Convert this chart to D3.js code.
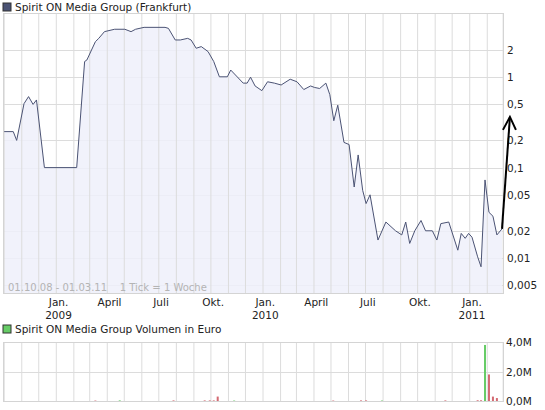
<!DOCTYPE html>
<html><head><meta charset="utf-8">
<script src="https://cdn.jsdelivr.net/npm/d3@7"></script>
<style>body{margin:0;background:#fff}svg{font-family:"DejaVu Sans",Verdana,sans-serif}</style>
</head><body><svg id="chart" width="545" height="410"></svg>
<script>
// price (weekly close, log scale)
var priceDates = ["2008-10-01","2008-10-17","2008-10-23","2008-11-05","2008-11-13","2008-11-21","2008-11-27","2008-12-11","2009-02-06","2009-02-20","2009-02-24","2009-03-11","2009-03-17","2009-03-27","2009-04-14","2009-05-02","2009-05-13","2009-05-21","2009-06-05","2009-07-12","2009-07-18","2009-07-30","2009-08-08","2009-08-21","2009-08-27","2009-09-05","2009-09-14","2009-09-26","2009-10-06","2009-10-16","2009-10-30","2009-11-05","2009-11-27","2009-12-04","2009-12-10","2009-12-18","2009-12-30","2010-01-09","2010-01-21","2010-02-02","2010-02-18","2010-03-02","2010-03-14","2010-03-26","2010-04-02","2010-04-11","2010-04-22","2010-04-29","2010-05-06","2010-05-13","2010-05-24","2010-06-02","2010-06-11","2010-06-18","2010-06-26","2010-07-02","2010-07-09","2010-07-23","2010-08-06","2010-08-23","2010-09-03","2010-09-10","2010-09-17","2010-09-26","2010-10-07","2010-10-15","2010-10-27","2010-11-04","2010-11-11","2010-11-25","2010-12-11","2010-12-17","2010-12-24","2010-12-30","2011-01-05","2011-01-15","2011-01-21","2011-01-28","2011-02-04","2011-02-11","2011-02-18","2011-02-27"];
var priceValues = [0.25,0.25,0.20,0.51,0.61,0.50,0.56,0.10,0.10,1.49,1.55,2.47,2.69,3.19,3.39,3.39,3.19,3.39,3.56,3.56,3.47,2.58,2.58,2.69,2.58,2.09,2.18,1.92,1.49,1.01,1.01,1.20,0.86,0.86,1.0,0.80,0.71,0.89,0.86,0.82,0.95,0.89,0.73,0.80,0.77,0.75,0.86,0.64,0.33,0.49,0.19,0.18,0.061,0.138,0.056,0.040,0.050,0.0158,0.025,0.020,0.018,0.025,0.0145,0.020,0.026,0.020,0.020,0.0158,0.024,0.025,0.0122,0.0187,0.0165,0.0187,0.017,0.0103,0.008,0.073,0.032,0.029,0.018,0.021];
var priceTicks = [2,1,0.5,0.2,0.1,0.05,0.02,0.01,0.005];

// volume in Euro, "up" = green, "down" = red
var volDates = ["2009-03-11","2009-04-23","2009-07-27","2009-09-20","2009-09-29","2009-10-06","2009-10-13","2009-11-11","2010-05-05","2010-06-23","2010-07-02","2010-07-30","2010-11-19","2011-01-15","2011-01-21","2011-01-28","2011-02-04","2011-02-11","2011-02-18"];
var volValues = [0.03,0.04,0.04,0.04,0.04,0.04,0.3,0.03,0.03,0.04,0.04,0.03,0.04,0.05,0.05,3.8,1.8,0.3,0.2];
var volUp = [0,1,0,0,0,0,0,1,0,0,0,1,0,0,0,1,0,0,0];
var volTicks = [0,2,4];

var xLabels = [["2009-01-01","Jan.","2009"],["2009-04-01","April",""],["2009-07-01","Juli",""],["2009-10-01","Okt.",""],["2010-01-01","Jan.","2010"],["2010-04-01","April",""],["2010-07-01","Juli",""],["2010-10-01","Okt.",""],["2011-01-01","Jan.","2011"]];

var parse = d3.timeParse("%Y-%m-%d");
var svg = d3.select("#chart");
var L = 3, R = 503, T = 13, B = 293, VT = 342, VB = 401;
var dayPx = (502 - 4.2) / 879;
var x = d3.scaleTime()
	.domain([parse("2008-10-01"), parse("2011-02-27")])
	.range([4.2, 502]);
var y = d3.scaleLog().domain([0.0041, 5.13]).range([B, T]);
var yv = d3.scaleLinear().domain([0, 4]).range([VB, VT]);
var months = d3.timeMonth.range(parse("2008-10-01"), parse("2011-03-02"));

function grid(top, bottom) {
	svg.append("g").selectAll("line").data(months).enter().append("line")
		.attr("x1", function (d) { return x(d); }).attr("x2", function (d) { return x(d); })
		.attr("y1", top).attr("y2", bottom)
		.attr("stroke", "#dcdcdc");
	svg.append("rect").attr("x", L + 0.5).attr("y", top + 0.5)
		.attr("width", R - L).attr("height", bottom - top)
		.attr("fill", "none").attr("stroke", "#d4d4d4");
}

// main panel
var hg = svg.append("g");
hg.selectAll("line").data(priceTicks).enter().append("line")
	.attr("x1", L).attr("x2", R)
	.attr("y1", function (d) { return Math.round(y(d)) + 0.5; })
	.attr("y2", function (d) { return Math.round(y(d)) + 0.5; })
	.attr("stroke", "#dcdcdc");

var pts = priceDates.map(function (d, i) { return [parse(d), priceValues[i]]; });
svg.append("path").datum(pts)
	.attr("fill", "#eef0fa").attr("fill-opacity", 0.85)
	.attr("d", d3.area().x(function (d) { return x(d[0]); }).y0(B).y1(function (d) { return y(d[1]); }));
grid(T, B);
svg.append("path").datum(pts)
	.attr("fill", "none").attr("stroke", "#4b5374").attr("stroke-width", 1)
	.attr("d", d3.line().x(function (d) { return x(d[0]); }).y(function (d) { return y(d[1]); }));

svg.append("g").attr("transform", "translate(" + (R + 4) + ",0)")
	.selectAll("text").data(priceTicks).enter().append("text")
	.attr("y", function (d) { return y(d) + 4; })
	.attr("font-size", 10.5).attr("fill", "#222")
	.text(function (d) { return String(d).replace(".", ","); });

// title
svg.append("rect").attr("x", 3).attr("y", 3).attr("width", 8).attr("height", 8)
	.attr("fill", "#4b5374").attr("stroke", "#333");
svg.append("text").attr("x", 15).attr("y", 11).attr("font-size", 10.5).attr("fill", "#222")
	.text("Spirit ON Media Group (Frankfurt)");
svg.append("text").attr("x", 8).attr("y", 291).attr("font-size", 10).attr("fill", "#b4b4b4")
	.attr("xml:space", "preserve").style("white-space", "pre")
	.text("01.10.08 - 01.03.11    1 Tick = 1 Woche");

// arrow
var tip = [x(parse("2011-03-13")), y(0.364)];
var a0 = [x(parse(priceDates[priceDates.length - 1])), y(priceValues[priceValues.length - 1])];
var ar = svg.append("g").attr("stroke", "#000").attr("fill", "none").attr("stroke-width", 2);
ar.append("line").attr("x1", a0[0]).attr("y1", a0[1]).attr("x2", tip[0]).attr("y2", tip[1]);
ar.append("polyline").attr("points", [[tip[0] - 7, tip[1] + 13], tip, [tip[0] + 6, tip[1] + 13]].join(" "));

// x labels
var xl = svg.append("g").attr("font-size", 10.5).attr("fill", "#222").attr("text-anchor", "middle");
xLabels.forEach(function (l) {
	var cx = x(parse(l[0])) + 4 * dayPx;
	xl.append("text").attr("x", cx).attr("y", 306).text(l[1]);
	if (l[2]) xl.append("text").attr("x", cx).attr("y", 319).text(l[2]);
});

// volume panel
svg.append("rect").attr("x", 3).attr("y", 325).attr("width", 8).attr("height", 8)
	.attr("fill", "#66cc66").attr("stroke", "#333");
svg.append("text").attr("x", 15).attr("y", 333).attr("font-size", 10.5).attr("fill", "#222")
	.text("Spirit ON Media Group Volumen in Euro");
svg.append("g").selectAll("line").data(volTicks).enter().append("line")
	.attr("x1", L).attr("x2", R)
	.attr("y1", function (d) { return Math.round(yv(d)) + 0.5; })
	.attr("y2", function (d) { return Math.round(yv(d)) + 0.5; })
	.attr("stroke", "#dcdcdc");
grid(VT, VB);
svg.append("g").selectAll("rect").data(volDates).enter().append("rect")
	.attr("x", function (d) { return x(parse(d)) - 1; })
	.attr("width", 2)
	.attr("y", function (d, i) { return yv(volValues[i]); })
	.attr("height", function (d, i) { return yv(0) - yv(volValues[i]); })
	.attr("fill", function (d, i) { return volUp[i] ? "#66cc66" : "#d46a72"; });
svg.append("g").attr("transform", "translate(" + (R + 3) + ",0)")
	.selectAll("text").data(volTicks).enter().append("text")
	.attr("y", function (d) { return yv(d) + 4; })
	.attr("font-size", 10.5).attr("fill", "#222")
	.text(function (d) { return d.toFixed(1).replace(".", ",") + "M"; });
</script></body></html>
